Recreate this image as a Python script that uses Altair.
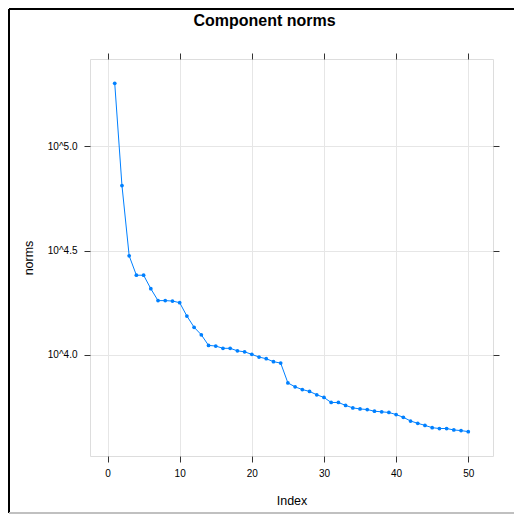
import altair as alt
import pandas as pd

# ---- data ----
index = list(range(1, 51))
log10_norms = [5.303, 4.8125, 4.475, 4.382, 4.382, 4.317, 4.260, 4.260, 4.258, 4.250,
               4.186, 4.132, 4.096, 4.045, 4.042, 4.031, 4.031, 4.019, 4.014, 4.002,
               3.989, 3.981, 3.967, 3.960, 3.865, 3.846, 3.833, 3.824, 3.808, 3.795,
               3.771, 3.771, 3.757, 3.745, 3.740, 3.737, 3.729, 3.726, 3.723, 3.713,
               3.700, 3.682, 3.671, 3.661, 3.650, 3.646, 3.646, 3.639, 3.636, 3.631]
x_ticks = [0, 10, 20, 30, 40, 50]
y_ticks = [4.0, 4.5, 5.0]
chart_title = "Component norms"

df = pd.DataFrame({"Index": index, "norms": log10_norms})

W, H = 403, 397
PAD_L, PAD_T, PAD_R, PAD_B = 82, 51, 21, 58
FONT = "Liberation Sans"
BLUE = "#0080ff"

xscale = alt.Scale(domain=[-2.43, 53.43], nice=False, zero=False)
yscale = alt.Scale(domain=[3.514, 5.420], nice=False, zero=False)

x_bottom = alt.X("Index:Q", scale=xscale, axis=alt.Axis(
    orient="bottom", values=x_ticks, format="d", grid=True, gridColor="#e6e6e6",
    domain=False, tickColor="#333333", tickSize=6, labelFontSize=10, labelPadding=6,
    labelColor="#000000", labelFont=FONT, title="Index", titleFont=FONT,
    titleFontSize=12.5, titleFontWeight="normal", titleColor="#000000",
    titleBaseline="alphabetic", titleY=48, titleX=W / 2))
y_left = alt.Y("norms:Q", scale=yscale, axis=alt.Axis(
    orient="left", values=y_ticks, grid=True, gridColor="#e6e6e6", domain=False,
    labelExpr="'10^' + format(datum.value, '.1f')",
    tickColor="#333333", tickSize=6, labelFontSize=10, labelPadding=7,
    labelColor="#000000", labelFont=FONT, title="norms", titleFont=FONT,
    titleFontSize=12.5, titleFontWeight="normal", titleColor="#000000",
    titleBaseline="alphabetic", titleX=-58, titleY=H / 2, titleAngle=270))

x_top = alt.X("Index:Q", scale=xscale, axis=alt.Axis(
    orient="top", values=x_ticks, grid=False, labels=False, domain=False,
    tickColor="#333333", tickSize=6, title=None))
y_right = alt.Y("norms:Q", scale=yscale, axis=alt.Axis(
    orient="right", values=y_ticks, grid=False, labels=False, domain=False,
    tickColor="#333333", tickSize=6, title=None))

line = alt.Chart(df).mark_line(color=BLUE, strokeWidth=1).encode(x=x_bottom, y=y_left)
points = alt.Chart(df).mark_point(filled=True, color=BLUE, size=14, opacity=1).encode(
    x=x_top, y=y_right)

one_row = alt.Data(values=[{"title": chart_title}])
title_text = alt.Chart(one_row).mark_text(
    font=FONT, fontSize=16, fontWeight="bold", color="#000000",
    align="center", baseline="alphabetic").encode(
    text="title:N", x=alt.value(W / 2 - 27), y=alt.value(-33))

left_rule = alt.Chart(one_row).mark_rule(color="#000000", strokeWidth=2).encode(
    x=alt.value(-PAD_L + 1), y=alt.value(-PAD_T + 1), y2=alt.value(H + PAD_B - 1))
top_rule = alt.Chart(one_row).mark_rule(color="#000000", strokeWidth=2).encode(
    x=alt.value(-PAD_L + 1), x2=alt.value(W + PAD_R), y=alt.value(-PAD_T + 1))
bottom_rule = alt.Chart(one_row).mark_rule(color="#c0c0c0", strokeWidth=2).encode(
    x=alt.value(-PAD_L + 1), x2=alt.value(W + PAD_R), y=alt.value(H + PAD_B - 1))

chart = alt.layer(line, points, title_text, left_rule, top_rule, bottom_rule).resolve_axis(
    x="independent", y="independent"
).properties(
    width=W, height=H,
    autosize=alt.AutoSizeParams(type="none"),
    padding={"left": PAD_L, "top": PAD_T, "right": PAD_R, "bottom": PAD_B},
).configure_view(stroke="#555555", strokeWidth=1).configure(background="#ffffff")

chart.save("out.html", embed_options={"renderer": "svg", "actions": False})
